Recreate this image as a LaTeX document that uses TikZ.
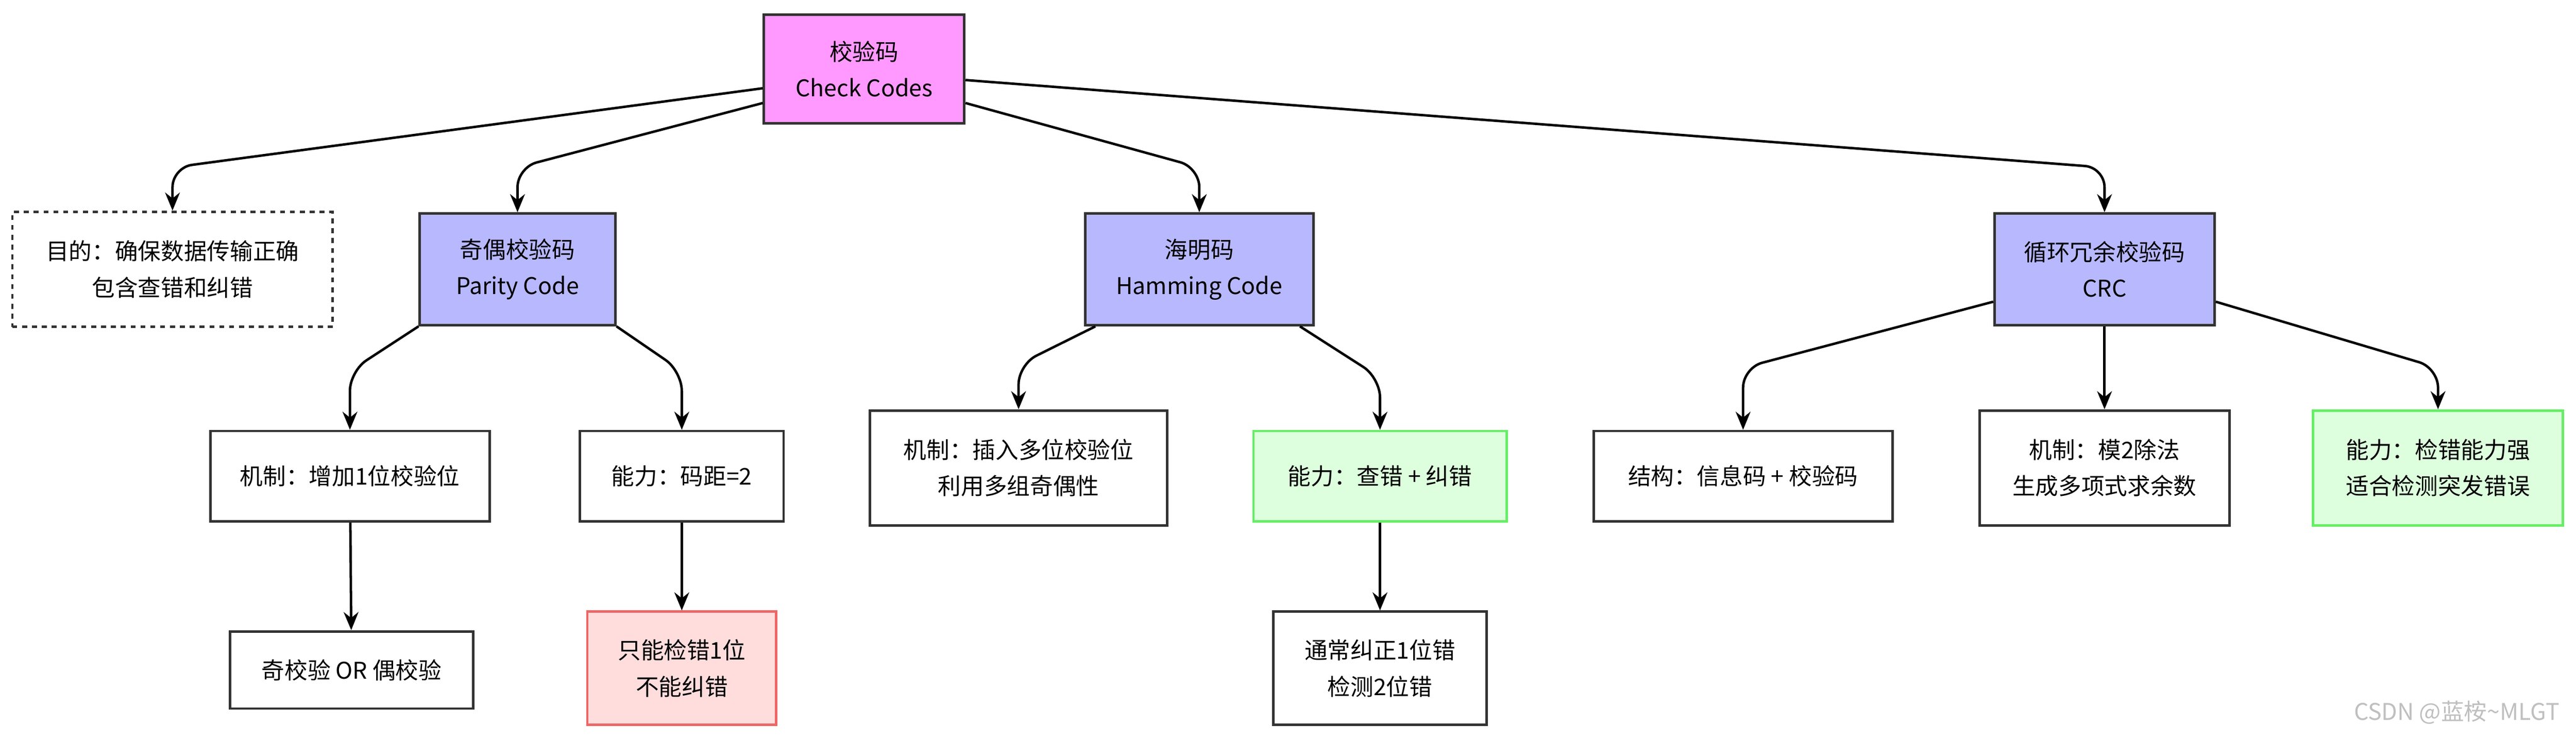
\documentclass[tikz,border=0pt]{standalone}
\usepackage{fontspec}
\setmainfont{Noto Sans CJK SC}
\usetikzlibrary{arrows.meta,calc}
\definecolor{rootfill}{HTML}{FF99FF}
\definecolor{bluefill}{HTML}{B8B8FF}
\definecolor{greenfill}{HTML}{DDFFDD}
\definecolor{greenline}{HTML}{66EE66}
\definecolor{redfill}{HTML}{FFDDDD}
\definecolor{redline}{HTML}{EE6666}
\definecolor{boxline}{HTML}{333333}
\tikzset{every picture/.style={line width=1.5pt},
  box/.style={draw=boxline,fill=white,align=center,inner sep=0pt,font=\fontsize{14}{22}\selectfont},
  catbox/.style={box,fill=bluefill},
  okbox/.style={box,fill=greenfill,draw=greenline},
  badbox/.style={box,fill=redfill,draw=redline},
  arr/.style={-{Stealth[length=11pt,width=9pt]},rounded corners=12pt,draw=black}}
\begin{document}
\begin{tikzpicture}[x=1pt,y=1pt,yscale=-1]
\useasboundingbox (0,0) rectangle (1568,451);
% top level
\node[box,fill=rootfill,minimum width=122pt,minimum height=66pt] (root) at (526,42) {校验码\\Check Codes};
\node[box,dashed,minimum width=195pt,minimum height=70pt] (aim) at (105,164) {目的：确保数据传输正确\\包含查错和纠错};
\node[catbox,minimum width=119pt,minimum height=68pt] (parity) at (315,164) {奇偶校验码\\Parity Code};
\node[catbox,minimum width=139pt,minimum height=68pt] (hamming) at (730,164) {海明码\\Hamming Code};
\node[catbox,minimum width=134pt,minimum height=68pt] (crc) at (1281,164) {循环冗余校验码\\CRC};
% parity
\node[box,minimum width=170pt,minimum height=55pt] (pmech) at (213,290) {机制：增加1位校验位};
\node[box,minimum width=124pt,minimum height=55pt] (pcap) at (415,290) {能力：码距=2};
\node[box,minimum width=148pt,minimum height=47pt] (pkind) at (214,408) {奇校验 OR 偶校验};
\node[badbox,minimum width=115pt,minimum height=69pt] (plimit) at (415,407) {只能检错1位\\不能纠错};
% hamming
\node[box,minimum width=181pt,minimum height=70pt] (hmech) at (620,285) {机制：插入多位校验位\\利用多组奇偶性};
\node[okbox,minimum width=154pt,minimum height=55pt] (hcap) at (840,290) {能力：查错 + 纠错};
\node[box,minimum width=130pt,minimum height=69pt] (hfix) at (840,407) {通常纠正1位错\\检测2位错};
% crc
\node[box,minimum width=182pt,minimum height=55pt] (cstruct) at (1061,290) {结构：信息码 + 校验码};
\node[box,minimum width=152pt,minimum height=70pt] (cmech) at (1281,285) {机制：模2除法\\生成多项式求余数};
\node[okbox,minimum width=152pt,minimum height=70pt] (ccap) at (1484,285) {能力：检错能力强\\适合检测突发错误};
% edges
\draw[arr] ($(root.south west)+(0,-22)$) -- (aim.north |- 0,102) -- (aim.north);
\draw[arr] ($(root.south west)+(0,-13)$) -- (parity.north |- 0,102) -- (parity.north);
\draw[arr] ($(root.south east)+(0,-13)$) -- (hamming.north |- 0,102) -- (hamming.north);
\draw[arr] ($(root.south east)+(0,-27)$) -- (crc.north |- 0,102) -- (crc.north);
\draw[arr] (parity.south west) -- (pmech.north |- 0,226) -- (pmech.north);
\draw[arr] (parity.south east) -- (pcap.north |- 0,226) -- (pcap.north);
\draw[arr] (pmech) -- (pkind);
\draw[arr] (pcap) -- (plimit);
\draw[arr] ($(hamming.south west)+(7,0)$) -- (hmech.north |- 0,222) -- (hmech.north);
\draw[arr] ($(hamming.south east)+(-9,0)$) -- (hcap.north |- 0,230) -- (hcap.north);
\draw[arr] (hcap) -- (hfix);
\draw[arr] ($(crc.south west)+(0,-15)$) -- (cstruct.north |- 0,224) -- (cstruct.north);
\draw[arr] (crc) -- (cmech);
\draw[arr] ($(crc.south east)+(0,-15)$) -- (ccap.north |- 0,224) -- (ccap.north);
% watermark
\node[text=black!25,font=\fontsize{14}{16}\selectfont,anchor=east] (mark) at (1562,434) {CSDN @蓝桉\textasciitilde MLGT};
\end{tikzpicture}
\end{document}
